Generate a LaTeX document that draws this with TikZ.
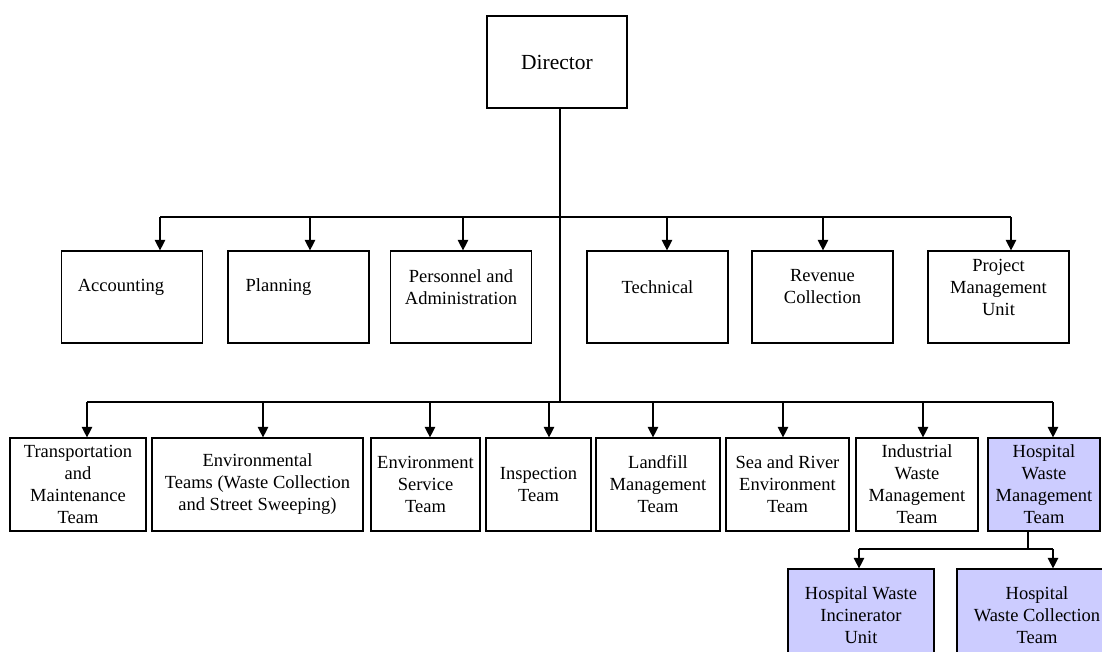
\documentclass[tikz,border=0pt]{standalone}
\usepackage{fontspec}
\setmainfont{Liberation Serif}
\usetikzlibrary{arrows.meta}
\definecolor{hospfill}{RGB}{204,204,255}
\begin{document}
\begin{tikzpicture}[x=1pt,y=-1pt,
  unit/.style={draw, line width=1.2pt, rectangle, inner sep=0pt, align=center,
               font=\fontsize{18.5}{22}\selectfont},
  toprow/.style={unit, minimum width=141pt, minimum height=92pt},
  team/.style={unit, minimum height=93pt},
  hosp/.style={team, fill=hospfill},
  caption/.style={align=center, inner sep=0pt, font=\fontsize{18.5}{22}\selectfont},
  wire/.style={line width=1.2pt},
  arr/.style={wire, -{Triangle[length=10.5pt,width=10.5pt]}}
]
\useasboundingbox (0,0) rectangle (1102,651);
\fill[white] (0,0) rectangle (1102,651);
\clip (0,0) rectangle (1102,651);

% head of the organisation
\node[unit, minimum width=140pt, minimum height=92pt,
      font=\fontsize{21.5}{25}\selectfont] (dir) at (557,62) {Director};

% departments
\node[toprow, label={[caption, xshift=-11pt, yshift=10pt]center:Accounting}] (acc) at (132,297) {};
\node[toprow, label={[caption, xshift=-20pt, yshift=10pt]center:Planning}] (pla) at (298.5,297) {};
\node[toprow, label={[caption, yshift=10pt]center:{Personnel and\\Administration}}] (per) at (461,297) {};
\node[toprow, label={[caption, yshift=10pt]center:Technical}] (tec) at (657.5,297) {};
\node[toprow, label={[caption, yshift=10pt]center:{Revenue\\Collection}}] (rev) at (822.5,297) {};
\node[toprow, label={[caption, yshift=10pt]center:{Project\\Management\\Unit}}] (pmu) at (998.5,297) {};

% teams
\node[team, minimum width=136pt] (tra) at (78,484.5) {Transportation\\and\\Maintenance\\Team};
\node[team, minimum width=211pt] (env) at (257.5,484.5) {Environmental\\Teams (Waste Collection\\and Street Sweeping)};
\node[team, minimum width=109pt] (ens) at (425.5,484.5) {Environment\\Service\\Team};
\node[team, minimum width=105pt] (ins) at (538.5,484.5) {Inspection\\Team};
\node[team, minimum width=124pt] (lan) at (658,484.5) {Landfill\\Management\\Team};
\node[team, minimum width=123pt] (sea) at (787.5,484.5) {Sea and River\\Environment\\Team};
\node[team, minimum width=122pt] (ind) at (917,484.5) {Industrial\\Waste\\Management\\Team};
\node[hosp, minimum width=112pt] (hwm) at (1044,484.5) {Hospital\\Waste\\Management\\Team};

% hospital waste units
\node[hosp, minimum width=146pt] (inc) at (861,615.5) {Hospital Waste\\Incinerator\\Unit};
\node[hosp, minimum width=160pt] (col) at (1037,615.5) {Hospital\\Waste Collection\\Team};

% junctions of the buses
\coordinate (t) at (560,217);
\coordinate (b) at (560,402);
\coordinate (s) at (1028,549);

% trunk from the director
\draw[wire] (dir.south -| t) -- (b);

% department bus
\draw[wire] ([xshift=28pt]acc.north |- t) -- ([xshift=12.5pt]pmu.north |- t);
\foreach \n/\dx in {acc/28,pla/11.5,per/2,tec/9.5,rev/0.5,pmu/12.5}
  \draw[arr] ([xshift=\dx pt]\n.north |- t) -- ([xshift=\dx pt]\n.north);

% team bus
\draw[wire] ([xshift=9pt]tra.north |- b) -- ([xshift=9pt]hwm.north |- b);
\foreach \n/\dx in {tra/9,env/5.5,ens/4.5,ins/10.5,lan/-5,sea/-4.5,ind/6,hwm/9}
  \draw[arr] ([xshift=\dx pt]\n.north |- b) -- ([xshift=\dx pt]\n.north);

% hospital waste bus
\draw[wire] (hwm.south -| s) -- (s);
\draw[wire] ([xshift=-2pt]inc.north |- s) -- ([xshift=16pt]col.north |- s);
\draw[arr] ([xshift=-2pt]inc.north |- s) -- ([xshift=-2pt]inc.north);
\draw[arr] ([xshift=16pt]col.north |- s) -- ([xshift=16pt]col.north);
\end{tikzpicture}
\end{document}
